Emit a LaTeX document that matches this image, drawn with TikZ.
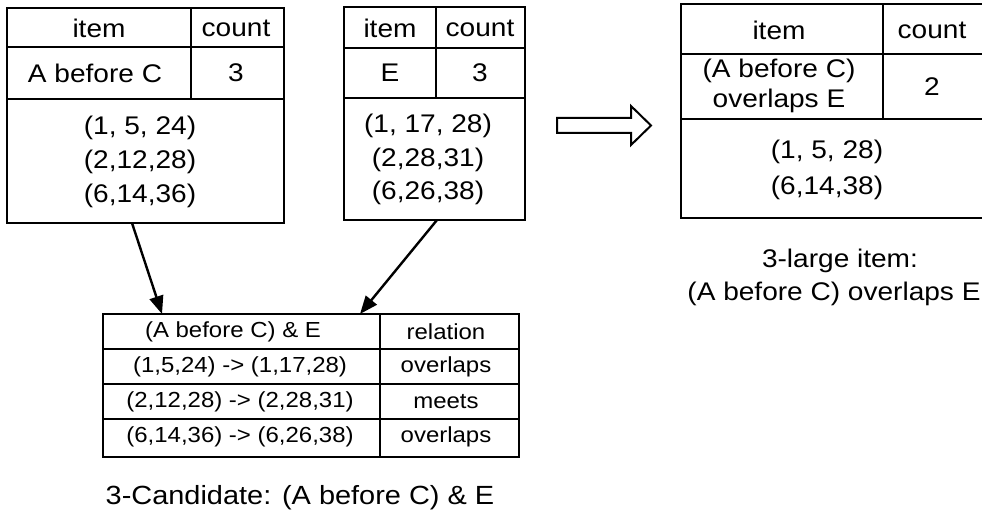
\documentclass[tikz,border=0pt]{standalone}
\usepackage{fontspec}
\setmainfont{Liberation Sans}[FakeStretch=1.1]
\usetikzlibrary{arrows.meta,calc}

\begin{document}
\begin{tikzpicture}[x=1bp,y=-1bp,
  frame/.style={draw, line width=1.4bp, inner sep=0pt, outer sep=0pt, anchor=north west},
  rule/.style={line width=1.4bp},
  big/.style={font=\fontsize{25.5bp}{30bp}\selectfont, inner sep=0pt},
  small/.style={font=\fontsize{21.8bp}{26bp}\selectfont, inner sep=0pt},
  link/.style={line width=2.4bp, -{Triangle[length=18bp,width=14bp]}},
  hollow/.style={draw, line width=2bp, fill=white, line join=miter}]
\useasboundingbox (0,0) rectangle (982,517);

% ---- table: A before C ----
\node[frame, minimum width=277bp, minimum height=215bp] (t1) at (7,8) {};
\draw[rule] (7,47) -- (284,47);
\draw[rule] (7,99) -- (284,99);
\draw[rule] (191,8) -- (191,99);
\node[big] (t1h1) at (99,28) {item};
\node[big] (t1h2) at (236,28) {count};
\node[big] (t1r1) at (95,73) {A before C};
\node[big] (t1r2) at (236,73) {3};
\node[big] (t1b1) at (140,128) {(1, 5, 24)};
\node[big] (t1b2) at (140,162) {(2,12,28)};
\node[big] (t1b3) at (140,196) {(6,14,36)};

% ---- table: E ----
\node[frame, minimum width=181bp, minimum height=213bp] (t2) at (344,7) {};
\draw[rule] (344,48) -- (525,48);
\draw[rule] (344,98) -- (525,98);
\draw[rule] (436,7) -- (436,98);
\node[big] (t2h1) at (390,28) {item};
\node[big] (t2h2) at (480,28) {count};
\node[big] (t2r1) at (390,73) {E};
\node[big] (t2r2) at (480,73) {3};
\node[big] (t2b1) at (428,126) {(1, 17, 28)};
\node[big] (t2b2) at (428,160) {(2,28,31)};
\node[big] (t2b3) at (428,193) {(6,26,38)};

% ---- table: 3-large item (runs past the right edge) ----
\node[frame, minimum width=320bp, minimum height=214bp] (t3) at (681,4) {};
\draw[rule] (681,54) -- (1001,54);
\draw[rule] (681,119) -- (1001,119);
\draw[rule] (883,4) -- (883,119);
\node[big] (t3h1) at (779,30) {item};
\node[big] (t3h2) at (932,30) {count};
\node[big] (t3r1a) at (779,71) {(A before C)};
\node[big] (t3r1b) at (779,101) {overlaps E};
\node[big] (t3r2) at (932,87) {2};
\node[big] (t3b1) at (827,152) {(1, 5, 28)};
\node[big] (t3b2) at (827,188) {(6,14,38)};
\node[big] (cap3a) at (840,261) {3-large item:};
\node[big] (cap3b) at (834,294) {(A before C) overlaps E};

% ---- hollow arrow ----
\draw[hollow] (557,118) -- (631,118) -- (631,106) -- (651,125.5)
  -- (631,145) -- (631,133) -- (557,133) -- cycle;

% ---- table: 3-Candidate ----
\node[frame, minimum width=416bp, minimum height=143bp] (t4) at (103,314) {};
\draw[rule] (103,349) -- (519,349);
\draw[rule] (103,384) -- (519,384);
\draw[rule] (103,419) -- (519,419);
\draw[rule] (380,314) -- (380,457);
\node[small] (t4h1) at (233,332) {(A before C) \& E};
\node[small] (t4h2) at (446,332) {relation};
\node[small] (t4a1) at (240,367) {(1,5,24) -> (1,17,28)};
\node[small] (t4a2) at (446,367) {overlaps};
\node[small] (t4b1) at (240,402) {(2,12,28) -> (2,28,31)};
\node[small] (t4b2) at (446,402) {meets};
\node[small] (t4c1) at (240,437) {(6,14,36) -> (6,26,38)};
\node[small] (t4c2) at (446,437) {overlaps};
\node[big, font=\fontsize{26.3bp}{30bp}\selectfont] (cap4) at (300,498) {3-Candidate: (A before C) \& E};

% ---- connectors ----
\draw[link] ($(t1.south west)+(125,0)$) -- ($(t4.north west)+(59,0)$);
\draw[link] ($(t2.south west)+(93,0)$) -- ($(t4.north west)+(257,0)$);
\end{tikzpicture}
\end{document}
